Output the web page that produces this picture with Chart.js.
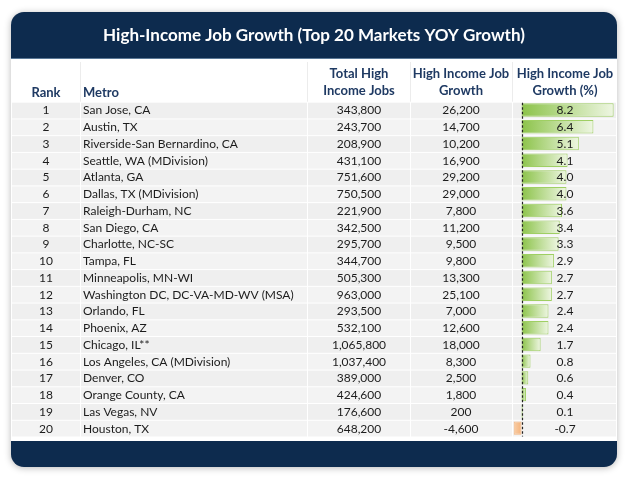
<!DOCTYPE html>
<html><head><meta charset="utf-8">
<script src="https://cdn.jsdelivr.net/npm/chart.js@4.4.0/dist/chart.umd.min.js"></script>
<style>html,body{margin:0;padding:0;background:#fff;overflow:hidden}canvas{display:block}</style>
</head><body>
<canvas id="c" width="631" height="491"></canvas>
<script>
const titleText = "High-Income Job Growth (Top 20 Markets YOY Growth)";
const headerRank = "Rank";
const headerMetro = "Metro";
const headerTotal = ["Total High", "Income Jobs"];
const headerGrowth = ["High Income Job", "Growth"];
const headerPct = ["High Income Job", "Growth (%)"];
const ranks = [1,2,3,4,5,6,7,8,9,10,11,12,13,14,15,16,17,18,19,20];
const metros = ["San Jose, CA","Austin, TX","Riverside-San Bernardino, CA","Seattle, WA (MDivision)","Atlanta, GA","Dallas, TX (MDivision)","Raleigh-Durham, NC","San Diego, CA","Charlotte, NC-SC","Tampa, FL","Minneapolis, MN-WI","Washington DC, DC-VA-MD-WV (MSA)","Orlando, FL","Phoenix, AZ","Chicago, IL**","Los Angeles, CA (MDivision)","Denver, CO","Orange County, CA","Las Vegas, NV","Houston, TX"];
const totalJobs = [343800,243700,208900,431100,751600,750500,221900,342500,295700,344700,505300,963000,293500,532100,1065800,1037400,389000,424600,176600,648200];
const jobGrowth = [26200,14700,10200,16900,29200,29000,7800,11200,9500,9800,13300,25100,7000,12600,18000,8300,2500,1800,200,-4600];
const growthPct = [8.2,6.4,5.1,4.1,4.0,4.0,3.6,3.4,3.3,2.9,2.7,2.7,2.4,2.4,1.7,0.8,0.6,0.4,0.1,-0.7];

const NAVY = "#0d2b4e";
const HEAD = "#1f3a63";
const TXT = "#1c1c1c";
const FONT = "Lato, 'Open Sans', sans-serif";
const fmt = v => v.toLocaleString("en-US");

const FX = {left: 11, right: 617, top: 12, bottom: 467, titleBottom: 59, bodyBottom: 441};
const COLS = [11, 80, 307, 410, 512, 617];

function barFill(ctx, pos) {
  const chart = ctx.chart;
  const xs = chart.scales.x;
  if (!xs || ctx.raw === undefined) return pos ? "#9ccc5e" : "#f5b37c";
  const v = ctx.raw;
  const x0 = xs.getPixelForValue(0), x1 = xs.getPixelForValue(v);
  if (!isFinite(x0) || !isFinite(x1) || x0 === x1) return v >= 0 ? "#9ccc5e" : "#f5b37c";
  const g = chart.ctx.createLinearGradient(x0, 0, x1, 0);
  if (v >= 0) { g.addColorStop(0, "#8cc34a"); g.addColorStop(1, "#eef6e2"); }
  else { g.addColorStop(0, "#f4b27a"); g.addColorStop(1, "#f9cfa8"); }
  return g;
}

const tablePlugin = {
  id: "tablePlugin",
  beforeDraw(chart) {
    const c = chart.ctx;
    const ys = chart.scales.y;
    const n = ranks.length;
    const h = (ys.bottom - ys.top) / n;
    c.save();
    c.shadowColor = "rgba(0,0,0,0.28)";
    c.shadowBlur = 7;
    c.shadowOffsetY = 1;
    c.fillStyle = NAVY;
    c.beginPath();
    c.roundRect(FX.left, FX.top, FX.right - FX.left, FX.bottom - FX.top, 13);
    c.fill();
    c.shadowColor = "transparent";
    c.fillStyle = "#ffffff";
    c.fillRect(FX.left, FX.titleBottom, FX.right - FX.left, FX.bodyBottom - FX.titleBottom);
    c.fillStyle = "#5a7896";
    c.fillRect(FX.left, FX.titleBottom - 1, FX.right - FX.left, 1);
    c.strokeStyle = "#ececec";
    c.lineWidth = 1;
    for (let k = 1; k < COLS.length - 1; k++) {
      c.beginPath(); c.moveTo(COLS[k] + 0.5, FX.titleBottom + 3); c.lineTo(COLS[k] + 0.5, ys.top); c.stroke();
    }
    for (let i = 0; i < n; i++) {
      const yc = ys.getPixelForValue(i);
      const top = yc - h / 2;
      c.fillStyle = (i % 2 === 0) ? "#efefef" : "#f3f3f3";
      for (let k = 0; k < COLS.length - 1; k++) {
        const x0 = COLS[k] + 1;
        const x1 = COLS[k + 1] - (k === COLS.length - 2 ? 1 : 0);
        c.fillRect(x0, top + 1, x1 - x0, h - 1);
      }
    }
    c.fillStyle = "#ffffff";
    c.textAlign = "center";
    c.textBaseline = "middle";
    let ts = 18;
    c.font = "bold " + ts + "px " + FONT;
    const w = c.measureText(titleText).width;
    ts = ts * 422 / w;
    c.font = "bold " + ts.toFixed(2) + "px " + FONT;
    c.fillText(titleText, 314, 36);
    c.fillStyle = HEAD;
    c.font = "bold 13px " + FONT;
    c.fillText(headerRank, 46, 93);
    c.textAlign = "left";
    c.fillText(headerMetro, 83, 93);
    c.textAlign = "center";
    const hc = [[headerTotal, 359], [headerGrowth, 461], [headerPct, 565]];
    hc.forEach(([lines, x]) => {
      c.fillText(lines[0], x, 73.5);
      c.fillText(lines[1], x, 91);
    });
    c.restore();
  },
  afterDatasetsDraw(chart) {
    const c = chart.ctx;
    const ys = chart.scales.y, xs = chart.scales.x;
    c.save();
    const x0 = Math.round(xs.getPixelForValue(0)) + 0.5;
    c.strokeStyle = "#222";
    c.lineWidth = 1.2;
    c.setLineDash([2.5, 2]);
    c.beginPath(); c.moveTo(x0, ys.top + 1); c.lineTo(x0, ys.bottom); c.stroke();
    c.setLineDash([]);
    c.fillStyle = TXT;
    c.textBaseline = "middle";
    c.font = "12px " + FONT;
    for (let i = 0; i < ranks.length; i++) {
      const yc = ys.getPixelForValue(i) + 0.5;
      c.textAlign = "center";
      c.fillText(String(ranks[i]), 46, yc);
      c.fillText(fmt(totalJobs[i]), 359, yc);
      c.fillText(fmt(jobGrowth[i]), 461, yc);
      c.fillText(growthPct[i].toFixed(1), 565, yc);
      c.textAlign = "left";
      c.fillText(metros[i], 83, yc);
    }
    c.restore();
  }
};

new Chart(document.getElementById("c"), {
  type: "bar",
  data: {
    labels: ranks.map(String),
    datasets: [{
      data: growthPct,
      backgroundColor: ctx => barFill(ctx, (ctx.raw ?? 0) >= 0),
      borderColor: ctx => ((ctx.raw ?? 0) >= 0 ? "#9fcf63" : "#f3b57f"),
      borderWidth: 1,
      borderSkipped: false,
      barPercentage: 0.8,
      categoryPercentage: 1
    }]
  },
  options: {
    indexAxis: "y",
    responsive: false,
    animation: false,
    devicePixelRatio: 1,
    layout: {padding: {left: 512, right: 14, top: 101.7, bottom: 54.5}},
    plugins: {legend: {display: false}, tooltip: {enabled: false}, title: {display: false}},
    scales: {
      x: {display: false, min: -0.85, max: 8.5},
      y: {display: false}
    }
  },
  plugins: [tablePlugin]
});
</script>
</body></html>
